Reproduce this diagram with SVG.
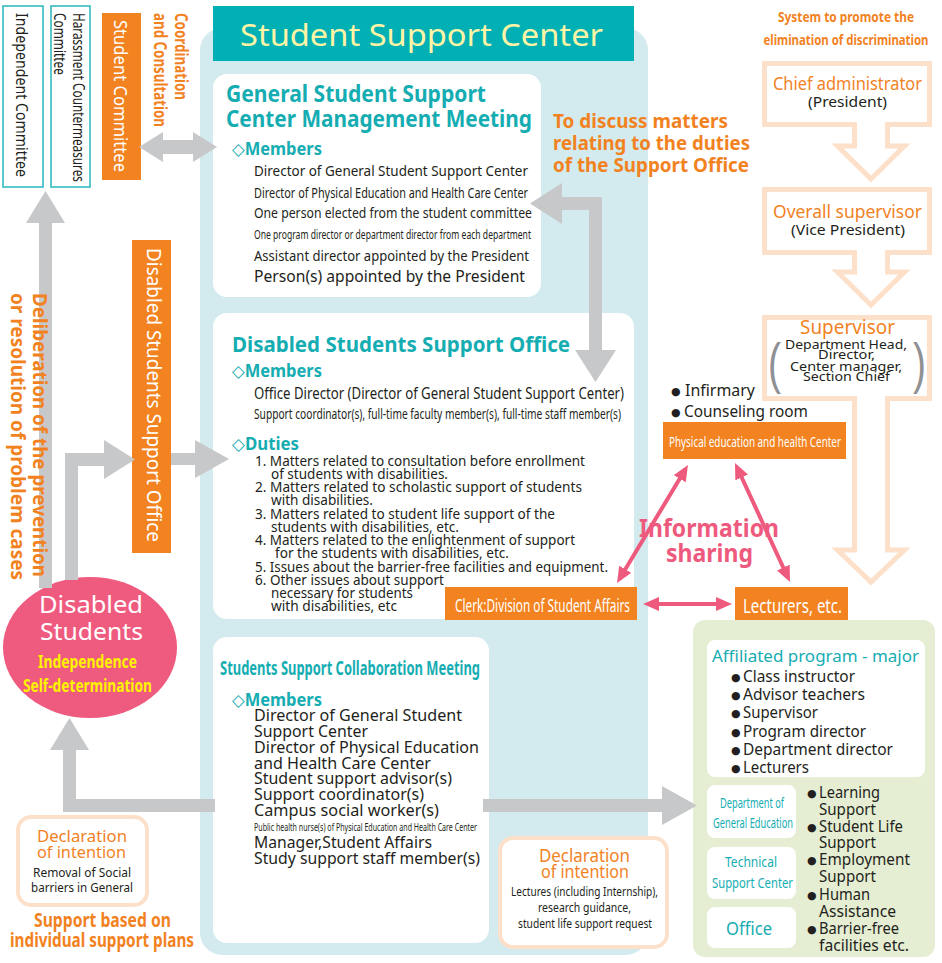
<svg xmlns="http://www.w3.org/2000/svg" width="942" height="963" viewBox="0 0 942 963">
<defs>
<style>
text{font-family:"Noto Sans","DejaVu Sans",sans-serif;fill:#231f20}
.b{font-weight:bold}
.tl{fill:#15adb2}
.or{fill:#f2821f}
.wh{fill:#ffffff}
.pk{fill:#ee5a7e}
.yl{fill:#fff200}
.mid{text-anchor:middle}
.box{fill:#ffffff}
.obox{fill:#f38320}
.gray{fill:#c7c8ca}
.peach{fill:#ffffff;stroke:#fde0c9;stroke-width:5}
.decl{fill:#ffffff;stroke:#fde0c9;stroke-width:4}
.cbox{fill:#ffffff;stroke:#27b6bf;stroke-width:1.5}
.pl{stroke:#ee5a7e;stroke-width:4;fill:none;marker-start:url(#ph);marker-end:url(#ph)}
.bul{font-family:"DejaVu Sans",sans-serif;font-size:11px}
.par{font-family:"Liberation Sans",sans-serif;fill:#8f9093}
</style>
<marker id="ph" viewBox="0 0 16 14" refX="11" refY="7" markerWidth="16" markerHeight="14" markerUnits="userSpaceOnUse" orient="auto-start-reverse">
<path d="M0,0 L16,7 L0,14 Z" fill="#ee5a7e"/>
</marker>
</defs>

<rect width="942" height="963" fill="#ffffff"/>

<!-- Student Support Center background -->
<g id="support-center">
<rect x="200" y="28" width="448" height="927" rx="22" fill="#d3ebee"/>
<rect x="213" y="6" width="421" height="55" fill="#00b0b5"/>
<text x="240" y="46" font-size="31" style="fill:#fff4a6" textLength="363" lengthAdjust="spacingAndGlyphs">Student Support Center</text>
</g>

<!-- left vertical committees -->
<g id="independent-committee">
<rect class="cbox" x="3" y="6" width="40" height="181"/>
<text transform="translate(16,13) rotate(90)" font-size="15.5" textLength="164" lengthAdjust="spacingAndGlyphs">Independent Committee</text>
</g>
<g id="harassment-committee">
<rect class="cbox" x="51" y="6" width="39" height="181"/>
<text transform="translate(73,13) rotate(90)" font-size="16" textLength="169" lengthAdjust="spacingAndGlyphs">Harassment Countermeasures</text>
<text transform="translate(54,13) rotate(90)" font-size="16" textLength="62" lengthAdjust="spacingAndGlyphs">Committee</text>
</g>
<g id="student-committee">
<rect class="obox" x="102" y="13" width="39" height="167"/>
<text class="wh" transform="translate(114,20) rotate(90)" font-size="18" textLength="152" lengthAdjust="spacingAndGlyphs">Student Committee</text>
</g>
<g id="coordination-label">
<text class="or b" transform="translate(175,13) rotate(90)" font-size="18" textLength="87" lengthAdjust="spacingAndGlyphs">Coordination</text>
<text class="or b" transform="translate(154,13) rotate(90)" font-size="18" textLength="114" lengthAdjust="spacingAndGlyphs">and Consultation</text>
</g>
<g id="dsso-vertical">
<rect class="obox" x="132" y="240" width="39" height="313"/>
<text class="wh" transform="translate(147,248) rotate(90)" font-size="20" textLength="294" lengthAdjust="spacingAndGlyphs">Disabled Students Support Office</text>
</g>

<!-- Management meeting -->
<g id="management-meeting">
<rect class="box" x="213" y="74" width="328" height="223" rx="14"/>
<text class="tl b" x="226" y="102" font-size="23" textLength="260" lengthAdjust="spacingAndGlyphs">General Student Support</text>
<text class="tl b" x="226" y="127" font-size="23" textLength="306" lengthAdjust="spacingAndGlyphs">Center Management Meeting</text>
<text class="tl b" x="232" y="155" font-size="17" textLength="90" lengthAdjust="spacingAndGlyphs"><tspan font-weight="normal">◇</tspan>Members</text>
<text x="254" y="176" font-size="15" textLength="274" lengthAdjust="spacingAndGlyphs">Director of General Student Support Center</text>
<text x="254" y="198" font-size="14" textLength="274" lengthAdjust="spacingAndGlyphs">Director of Physical Education and Health Care Center</text>
<text x="254" y="218" font-size="15" textLength="278" lengthAdjust="spacingAndGlyphs">One person elected from the student committee</text>
<text x="254" y="239" font-size="12" textLength="277" lengthAdjust="spacingAndGlyphs">One program director or department director from each department</text>
<text x="254" y="261" font-size="15" textLength="275" lengthAdjust="spacingAndGlyphs">Assistant director appointed by the President</text>
<text x="254" y="282" font-size="15.5" textLength="271" lengthAdjust="spacingAndGlyphs">Person(s) appointed by the President</text>
</g>

<g id="discuss-label">
<text class="or b" x="553" y="128" font-size="20" textLength="175" lengthAdjust="spacingAndGlyphs">To discuss matters</text>
<text class="or b" x="553" y="150" font-size="20" textLength="197" lengthAdjust="spacingAndGlyphs">relating to the duties</text>
<text class="or b" x="553" y="172" font-size="20" textLength="196" lengthAdjust="spacingAndGlyphs">of the Support Office</text>
</g>

<!-- Disabled Students Support Office -->
<g id="support-office">
<rect class="box" x="213" y="313" width="421" height="306" rx="14"/>
<text class="tl b" x="232" y="352" font-size="22" textLength="338" lengthAdjust="spacingAndGlyphs">Disabled Students Support Office</text>
<text class="tl b" x="232" y="377" font-size="17" textLength="90" lengthAdjust="spacingAndGlyphs"><tspan font-weight="normal">◇</tspan>Members</text>
<text x="254" y="399" font-size="15.5" textLength="370" lengthAdjust="spacingAndGlyphs">Office Director (Director of General Student Support Center)</text>
<text x="254" y="419" font-size="14" textLength="367" lengthAdjust="spacingAndGlyphs">Support coordinator(s), full-time faculty member(s), full-time staff member(s)</text>
<text class="tl b" x="232" y="450" font-size="17" textLength="67" lengthAdjust="spacingAndGlyphs"><tspan font-weight="normal">◇</tspan>Duties</text>
<text x="255" y="466" font-size="13.5" textLength="330" lengthAdjust="spacingAndGlyphs">1. Matters related to consultation before enrollment</text>
<text x="271" y="479" font-size="13.5" textLength="177" lengthAdjust="spacingAndGlyphs">of students with disabilities.</text>
<text x="255" y="492" font-size="13.5" textLength="327" lengthAdjust="spacingAndGlyphs">2. Matters related to scholastic support of students</text>
<text x="271" y="505" font-size="13.5" textLength="102" lengthAdjust="spacingAndGlyphs">with disabilities.</text>
<text x="255" y="519" font-size="13.5" textLength="300" lengthAdjust="spacingAndGlyphs">3. Matters related to student life support of the</text>
<text x="271" y="532" font-size="13.5" textLength="188" lengthAdjust="spacingAndGlyphs">students with disabilities, etc.</text>
<text x="255" y="545" font-size="13.5" textLength="320" lengthAdjust="spacingAndGlyphs">4. Matters related to the enlightenment of support</text>
<text x="275" y="558" font-size="13.5" textLength="234" lengthAdjust="spacingAndGlyphs">for the students with disabilities, etc.</text>
<text x="255" y="572" font-size="13.5" textLength="353" lengthAdjust="spacingAndGlyphs">5. Issues about the barrier-free facilities and equipment.</text>
<text x="255" y="585" font-size="13.5" textLength="189" lengthAdjust="spacingAndGlyphs">6. Other issues about support</text>
<text x="271" y="598" font-size="13.5" textLength="142" lengthAdjust="spacingAndGlyphs">necessary for students</text>
<text x="271" y="611" font-size="13.5" textLength="126" lengthAdjust="spacingAndGlyphs">with disabilities, etc</text>
</g>

<!-- Collaboration meeting -->
<g id="collaboration-meeting">
<rect class="box" x="213" y="637" width="276" height="306" rx="14"/>
<text class="tl b" x="220" y="675" font-size="19" textLength="260" lengthAdjust="spacingAndGlyphs">Students Support Collaboration Meeting</text>
<text class="tl b" x="232" y="706" font-size="17" textLength="90" lengthAdjust="spacingAndGlyphs"><tspan font-weight="normal">◇</tspan>Members</text>
<text x="254" y="721" font-size="16.5" textLength="208" lengthAdjust="spacingAndGlyphs">Director of General Student</text>
<text x="254" y="737" font-size="16.5" textLength="114" lengthAdjust="spacingAndGlyphs">Support Center</text>
<text x="254" y="753" font-size="16.5" textLength="225" lengthAdjust="spacingAndGlyphs">Director of Physical Education</text>
<text x="254" y="769" font-size="16.5" textLength="177" lengthAdjust="spacingAndGlyphs">and Health Care Center</text>
<text x="254" y="784" font-size="16.5" textLength="198" lengthAdjust="spacingAndGlyphs">Student support advisor(s)</text>
<text x="254" y="800" font-size="16.5" textLength="170" lengthAdjust="spacingAndGlyphs">Support coordinator(s)</text>
<text x="254" y="816" font-size="16.5" textLength="185" lengthAdjust="spacingAndGlyphs">Campus social worker(s)</text>
<text x="254" y="831" font-size="11" textLength="223" lengthAdjust="spacingAndGlyphs">Public health nurse(s) of Physical Education and Health Care Center</text>
<text x="254" y="848" font-size="16.5" textLength="178" lengthAdjust="spacingAndGlyphs">Manager,Student Affairs</text>
<text x="254" y="864" font-size="16.5" textLength="226" lengthAdjust="spacingAndGlyphs">Study support staff member(s)</text>
</g>

<!-- Declarations -->
<g id="declaration-middle">
<rect class="decl" x="500" y="838" width="167" height="109" rx="13"/>
<text class="or" x="539" y="862" font-size="18" textLength="91" lengthAdjust="spacingAndGlyphs">Declaration</text>
<text class="or" x="541" y="878" font-size="18" textLength="88" lengthAdjust="spacingAndGlyphs">of intention</text>
<text x="511" y="896" font-size="13" textLength="147" lengthAdjust="spacingAndGlyphs">Lectures (including Internship),</text>
<text x="538" y="912" font-size="13" textLength="93" lengthAdjust="spacingAndGlyphs">research guidance,</text>
<text x="518" y="928" font-size="13" textLength="134" lengthAdjust="spacingAndGlyphs">student life support request</text>
</g>
<g id="declaration-left">
<rect class="decl" x="18" y="817" width="129" height="88" rx="13"/>
<text class="or" x="37" y="842" font-size="17" textLength="90" lengthAdjust="spacingAndGlyphs">Declaration</text>
<text class="or" x="37" y="858" font-size="17" textLength="89" lengthAdjust="spacingAndGlyphs">of intention</text>
<text x="33" y="877" font-size="13" textLength="98" lengthAdjust="spacingAndGlyphs">Removal of Social</text>
<text x="31" y="892" font-size="13" textLength="102" lengthAdjust="spacingAndGlyphs">barriers in General</text>
</g>
<g id="support-plans-label">
<text class="or b" x="34" y="927" font-size="19" textLength="137" lengthAdjust="spacingAndGlyphs">Support based on</text>
<text class="or b" x="10" y="947" font-size="19" textLength="184" lengthAdjust="spacingAndGlyphs">individual support plans</text>
</g>

<!-- Disabled students -->
<g id="disabled-students">
<ellipse cx="90" cy="647.5" rx="87" ry="70.5" fill="#ef5a7f"/>
<text class="wh" x="39" y="613" font-size="24" textLength="104" lengthAdjust="spacingAndGlyphs">Disabled</text>
<text class="wh" x="40" y="640" font-size="24" textLength="103" lengthAdjust="spacingAndGlyphs">Students</text>
<text class="yl b" x="38" y="668" font-size="17" textLength="99" lengthAdjust="spacingAndGlyphs">Independence</text>
<text class="yl b" x="23" y="692" font-size="17" textLength="129" lengthAdjust="spacingAndGlyphs">Self-determination</text>
</g>

<!-- Right column: discrimination elimination system -->
<g id="discrimination-system">
<text class="or b mid" x="846" y="22" font-size="15" textLength="136" lengthAdjust="spacingAndGlyphs">System to promote the</text>
<text class="or b mid" x="846" y="45" font-size="15" textLength="165" lengthAdjust="spacingAndGlyphs">elimination of discrimination</text>
<path class="peach" d="M764.5,63.5 H929.5 V124.5 H887.5 V146 H904.5 L871,179 L837.5,146 H854.5 V124.5 H764.5 Z"/>
<path class="peach" d="M764.5,189.5 H929.5 V252.5 H887.5 V272 H904.5 L871,305 L837.5,272 H854.5 V252.5 H764.5 Z"/>
<path class="peach" d="M764.5,317.5 H929.5 V398.5 H887.5 V550 H904.5 L871,582 L837.5,550 H854.5 V398.5 H764.5 Z"/>
<text class="or mid" x="847.5" y="90" font-size="18" textLength="149" lengthAdjust="spacingAndGlyphs">Chief administrator</text>
<text class="mid" x="847.5" y="107" font-size="14" textLength="79" lengthAdjust="spacingAndGlyphs">(President)</text>
<text class="or mid" x="847.5" y="218" font-size="18" textLength="149" lengthAdjust="spacingAndGlyphs">Overall supervisor</text>
<text class="mid" x="848" y="235" font-size="14" textLength="114" lengthAdjust="spacingAndGlyphs">(Vice President)</text>
<text class="or mid" x="847.5" y="334" font-size="19" textLength="95" lengthAdjust="spacingAndGlyphs">Supervisor</text>
<text class="mid" x="846" y="349" font-size="12.5" textLength="122" lengthAdjust="spacingAndGlyphs">Department Head,</text>
<text class="mid" x="846.5" y="359" font-size="12.5" textLength="57" lengthAdjust="spacingAndGlyphs">Director,</text>
<text class="mid" x="846" y="371" font-size="12.5" textLength="112" lengthAdjust="spacingAndGlyphs">Center manager,</text>
<text class="mid" x="846.5" y="381" font-size="12.5" textLength="87" lengthAdjust="spacingAndGlyphs">Section Chief</text>
<text class="par" transform="translate(768,382) scale(0.72,1.04)" font-size="54">(</text>
<text class="par" transform="translate(913,382) scale(0.72,1.04)" font-size="54">)</text>
</g>

<!-- Health center -->
<g id="health-center">
<text class="bul" x="671" y="395">●</text>
<text x="685" y="396" font-size="16" textLength="70" lengthAdjust="spacingAndGlyphs">Infirmary</text>
<text class="bul" x="671" y="416">●</text>
<text x="684" y="417" font-size="16" textLength="124" lengthAdjust="spacingAndGlyphs">Counseling room</text>
<rect class="obox" x="663" y="422" width="183" height="37"/>
<text class="wh" x="669" y="447" font-size="15" textLength="172" lengthAdjust="spacingAndGlyphs">Physical education and health Center</text>
</g>

<g id="information-sharing-label">
<text class="pk b" x="639" y="537" font-size="25" textLength="140" lengthAdjust="spacingAndGlyphs">Information</text>
<text class="pk b" x="666" y="562" font-size="25" textLength="87" lengthAdjust="spacingAndGlyphs">sharing</text>
</g>

<!-- Affiliated program (green) -->
<g id="affiliated">
<rect x="693" y="620" width="242" height="337" rx="12" fill="#e5eed2"/>
<rect class="box" x="707" y="640" width="218" height="137" rx="8"/>
<text class="tl" x="712" y="662" font-size="17" textLength="207" lengthAdjust="spacingAndGlyphs">Affiliated program - major</text>
<text class="bul" x="731" y="681">●</text>
<text x="743" y="682" font-size="16" textLength="112" lengthAdjust="spacingAndGlyphs">Class instructor</text>
<text class="bul" x="731" y="699">●</text>
<text x="743" y="700" font-size="16" textLength="122" lengthAdjust="spacingAndGlyphs">Advisor teachers</text>
<text class="bul" x="731" y="717">●</text>
<text x="743" y="718" font-size="16" textLength="75" lengthAdjust="spacingAndGlyphs">Supervisor</text>
<text class="bul" x="731" y="736">●</text>
<text x="743" y="737" font-size="16" textLength="123" lengthAdjust="spacingAndGlyphs">Program director</text>
<text class="bul" x="731" y="754">●</text>
<text x="743" y="755" font-size="16" textLength="150" lengthAdjust="spacingAndGlyphs">Department director</text>
<text class="bul" x="731" y="772">●</text>
<text x="743" y="773" font-size="16" textLength="66" lengthAdjust="spacingAndGlyphs">Lecturers</text>
<rect class="box" x="707" y="785" width="89" height="53" rx="8"/>
<text class="tl" x="720" y="808" font-size="14" textLength="64" lengthAdjust="spacingAndGlyphs">Department of</text>
<text class="tl" x="713" y="828" font-size="14" textLength="80" lengthAdjust="spacingAndGlyphs">General Education</text>
<rect class="box" x="707" y="847" width="89" height="52" rx="8"/>
<text class="tl" x="725" y="867" font-size="15" textLength="52" lengthAdjust="spacingAndGlyphs">Technical</text>
<text class="tl" x="712" y="888" font-size="15" textLength="81" lengthAdjust="spacingAndGlyphs">Support Center</text>
<rect class="box" x="707" y="907" width="89" height="41" rx="8"/>
<text class="tl" x="726" y="935" font-size="18" textLength="46" lengthAdjust="spacingAndGlyphs">Office</text>
<text class="bul" x="807" y="797">●</text>
<text x="819" y="798" font-size="16" textLength="61" lengthAdjust="spacingAndGlyphs">Learning</text>
<text x="819" y="815" font-size="16" textLength="57" lengthAdjust="spacingAndGlyphs">Support</text>
<text class="bul" x="807" y="831">●</text>
<text x="819" y="832" font-size="16" textLength="84" lengthAdjust="spacingAndGlyphs">Student Life</text>
<text x="819" y="848" font-size="16" textLength="57" lengthAdjust="spacingAndGlyphs">Support</text>
<text class="bul" x="807" y="864">●</text>
<text x="819" y="865" font-size="16" textLength="91" lengthAdjust="spacingAndGlyphs">Employment</text>
<text x="819" y="882" font-size="16" textLength="57" lengthAdjust="spacingAndGlyphs">Support</text>
<text class="bul" x="807" y="899">●</text>
<text x="819" y="900" font-size="16" textLength="51" lengthAdjust="spacingAndGlyphs">Human</text>
<text x="819" y="917" font-size="16" textLength="77" lengthAdjust="spacingAndGlyphs">Assistance</text>
<text class="bul" x="807" y="933">●</text>
<text x="819" y="934" font-size="16" textLength="80" lengthAdjust="spacingAndGlyphs">Barrier-free</text>
<text x="819" y="951" font-size="16" textLength="90" lengthAdjust="spacingAndGlyphs">facilities etc.</text>
</g>

<g id="clerk">
<rect class="obox" x="445" y="587" width="192" height="33"/>
<text class="wh" x="455" y="612" font-size="18" textLength="175" lengthAdjust="spacingAndGlyphs">Clerk:Division of Student Affairs</text>
</g>
<g id="lecturers">
<rect class="obox" x="735" y="587" width="113" height="33"/>
<text class="wh" x="743" y="613" font-size="19" textLength="99" lengthAdjust="spacingAndGlyphs">Lecturers, etc.</text>
</g>

<!-- Connectors -->
<g id="connectors">
<path class="gray" d="M139,147 L163,132 L163,140 L193,140 L193,132 L217,147 L193,162 L193,154 L163,154 L163,162 Z"/>
<path class="gray" d="M530,203.5 L562,183 L562,197 L602,197 L602,350 L616,350 L595.5,382 L575,350 L589,350 L589,210 L562,210 L562,224 Z"/>
<path class="gray" d="M171,453 L195,453 L195,440 L229,459 L195,478 L195,465 L171,465 Z"/>
<path class="gray" d="M65,580 L65,453 L104,453 L104,440 L135,459.5 L104,479 L104,466 L78,466 L78,580 Z"/>
<path class="gray" d="M39,588 L39,223 L26,223 L45.5,191 L65,223 L52,223 L52,588 Z"/>
<path class="gray" d="M215,799 L76,799 L76,750 L89,750 L69.5,718 L50,750 L63,750 L63,812 L215,812 Z"/>
<path class="gray" d="M483,799 L662,799 L662,786 L697,805.5 L662,825 L662,812 L483,812 Z"/>
<line class="pl" x1="648" y1="604" x2="727" y2="604"/>
<line class="pl" x1="685.4" y1="469.3" x2="619.6" y2="578.7"/>
<line class="pl" x1="737.1" y1="467.5" x2="787.9" y2="577.5"/>
</g>

<!-- label drawn over the vertical arrow -->
<g id="deliberation-label">
<text class="or b" transform="translate(33,293) rotate(90)" font-size="19" textLength="284" lengthAdjust="spacingAndGlyphs">Deliberation of the prevention</text>
<text class="or b" transform="translate(11,293) rotate(90)" font-size="19" textLength="287" lengthAdjust="spacingAndGlyphs">or resolution of problem cases</text>
</g>
</svg>
